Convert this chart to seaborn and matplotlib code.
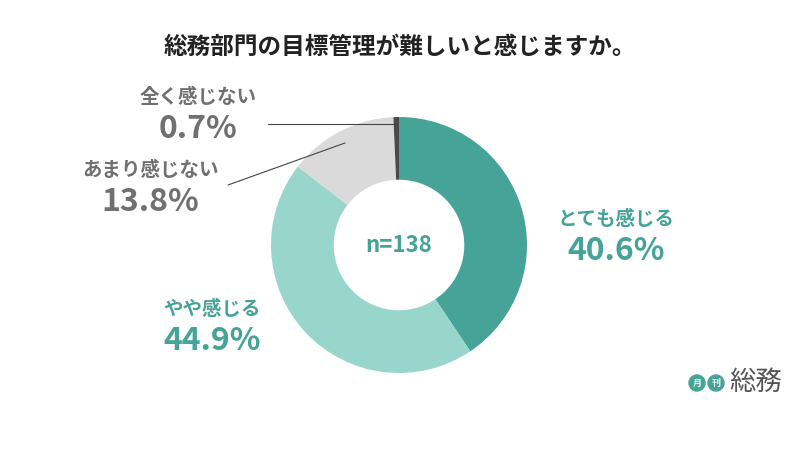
import matplotlib
matplotlib.use("Agg")
import matplotlib.pyplot as plt
import seaborn as sns
from matplotlib.patches import Ellipse

sns.set_style("white")
plt.rcParams["font.family"] = "Noto Sans CJK JP"

labels = ["とても感じる", "やや感じる", "あまり感じない", "全く感じない"]
values = [40.6, 44.9, 13.8, 0.7]
colors = ["#46a397", "#98d6cc", "#dadada", "#4a4a4a"]
title = "総務部門の目標管理が難しいと感じますか。"
n_label = "n=138"

fig = plt.figure(figsize=(8, 4.5), dpi=100)
fig.text(0.5, 1 - 47 / 450, title, ha="center", va="center", fontsize=17, fontweight="bold", color="#222222")

cx, cy, r = 399, 245, 128
ax = fig.add_axes([(cx - r) / 800, (450 - cy - r) / 450, 2 * r / 800, 2 * r / 450])
ax.pie(values, colors=colors, startangle=90, counterclock=False,
       wedgeprops=dict(width=0.49, edgecolor="none"))
ax.set_xlim(-1, 1)
ax.set_ylim(-1, 1)
ax.set_aspect("equal")
ax.axis("off")
ax.text(0, 0, n_label, ha="center", va="center", fontsize=16, fontweight="bold", color="#46a397")

teal = "#46a397"
gray = "#707070"

def put(x, y, s, size, color):
    fig.text(x / 800, 1 - y / 450, s, ha="center", va="center", fontsize=size, fontweight="bold", color=color)

put(616, 219, labels[0], 14, teal)
put(616, 251, f"{values[0]}%", 23, teal)
put(212, 309, labels[1], 14, teal)
put(212, 341, f"{values[1]}%", 23, teal)
put(150, 170, labels[2], 14, gray)
put(150, 202, f"{values[2]}%", 23, gray)
put(198, 97, labels[3], 14, gray)
put(198, 129, f"{values[3]}%", 23, gray)

fig.add_artist(plt.Line2D([268 / 800, 397 / 800], [1 - 124 / 450, 1 - 124 / 450], color="#444444", lw=0.8))
fig.add_artist(plt.Line2D([228 / 800, 345 / 800], [1 - 185 / 450, 1 - 143 / 450], color="#444444", lw=0.8))

for x, ch in [(697, "月"), (716, "刊")]:
    fig.add_artist(Ellipse((x / 800, 1 - 383 / 450), 16 / 800, 16 / 450, transform=fig.transFigure, color=teal))
    fig.text(x / 800, 1 - 383 / 450, ch, ha="center", va="center", fontsize=6.5, color="white", fontweight="bold")
fig.text(756 / 800, 1 - 382 / 450, "総務", ha="center", va="center", fontsize=19, color="#555555")

fig.savefig("out.png", dpi=100, facecolor="white")
